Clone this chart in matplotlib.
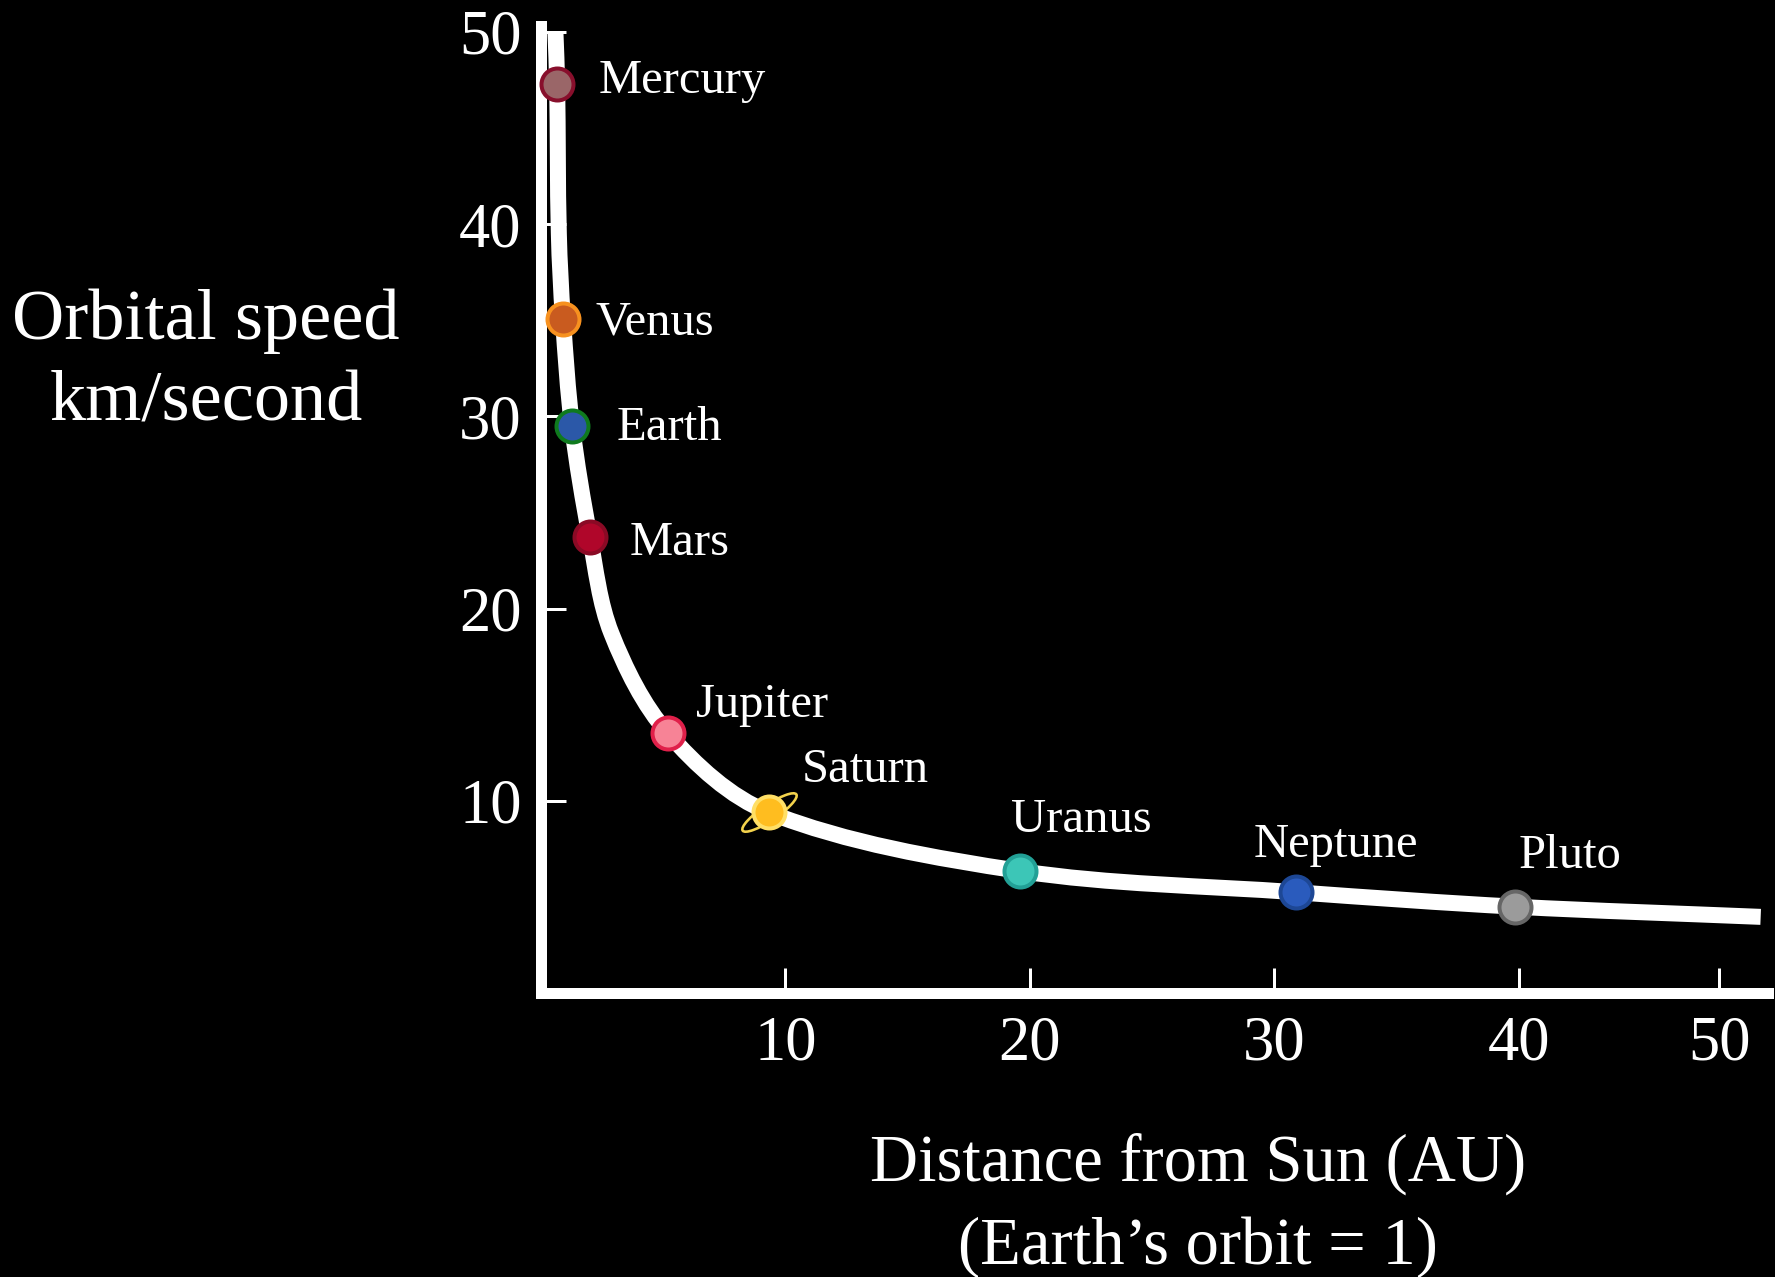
import matplotlib.pyplot as plt
import numpy as np
from matplotlib.path import Path
from matplotlib.patches import PathPatch
from matplotlib.transforms import Affine2D

plt.rcParams["font.family"] = ["Liberation Serif", "DejaVu Serif"]

################################################################################
# Data                                                  #
################################################################################
planets = ["Mercury", "Venus", "Earth", "Mars", "Jupiter", "Saturn", "Uranus", "Neptune", "Pluto"]
dist_au = [0.66, 0.90, 1.27, 2.0, 5.2, 9.33, 19.58, 30.9, 39.86]
speed_kms = [47.3, 35.05, 29.5, 23.7, 13.5, 9.39, 6.35, 5.24, 4.49]
face_colors = ["#9a6668", "#c95b1f", "#2b58a8", "#b0062a", "#f78396", "#ffbd1f", "#3cc6b7", "#2a5bbd", "#9b9b9b"]
edge_colors = ["#880f2c", "#f7911f", "#0f7a1e", "#8a0a25", "#e0204a", "#ffdf66", "#22a096", "#1d4795", "#666666"]

# the white speed curve
curve_au = [0.59, 0.66, 0.73, 0.90, 1.27, 2.0, 2.88, 5.2, 9.33, 19.58, 30.9, 39.86, 49.9]
curve_kms = [50.0, 47.3, 39.5, 35.05, 29.5, 23.7, 18.71, 13.5, 9.39, 6.35, 5.24, 4.49, 3.96]

x_ticks = [10, 20, 30, 40, 48.2]
x_tick_labels = ["10", "20", "30", "40", "50"]
y_ticks = [10, 20, 30, 40, 50]
y_tick_labels = ["10", "20", "30", "40", "50"]

# label offsets from the marker centre, in pixels (dx right, dy up)
label_offsets = {
    "Mercury": (41, 3),
    "Venus": (33, -3),
    "Earth": (45, -2),
    "Mars": (40, -6),
    "Jupiter": (28, 28),
    "Saturn": (33, 42),
    "Uranus": (-9, 51),
    "Neptune": (-43, 47),
    "Pluto": (3, 51),
}


def smooth_line(xs, ys, sx, sy):
    # cubic Bezier path through the traced points (chord-length Hermite tangents)
    P = np.column_stack([np.asarray(xs) * sx, np.asarray(ys) * sy])
    d = np.linalg.norm(np.diff(P, axis=0), axis=1)
    T = np.zeros_like(P)
    T[1:-1] = (P[2:] - P[:-2]) / (d[:-1] + d[1:])[:, None]
    T[0] = (P[1] - P[0]) / d[0]
    T[-1] = (P[-1] - P[-2]) / d[-1]
    verts = [P[0]]
    codes = [Path.MOVETO]
    for i in range(len(d)):
        verts += [P[i] + T[i] * d[i] / 3, P[i + 1] - T[i + 1] * d[i] / 3, P[i + 1]]
        codes += [Path.CURVE4] * 3
    return Path(np.array(verts) / [sx, sy], codes)


################################################################################
# Figure                                                                       #
################################################################################
W, H = 1775, 1277
px = 0.72  # pixel -> points at dpi 100
fig = plt.figure(figsize=(W / 100, H / 100), dpi=100, facecolor="black")
ax = fig.add_axes([541 / W, 1 - 993 / H, (1768 - 541) / W, (993 - 26) / H])
ax.set_facecolor("black")

ax.add_patch(PathPatch(smooth_line(curve_au, curve_kms, 24.44, 19.22), fill=False, ec="white",
                       lw=16 * px, capstyle="butt", joinstyle="round", zorder=2, clip_on=False))

# Saturn's ring as a custom marker
ring = Path.unit_circle().transformed(Affine2D().scale(1.0, 0.24).rotate_deg(34))
i_sat = planets.index("Saturn")
ax.plot(dist_au[i_sat], speed_kms[i_sat], marker=ring, ms=56 * px, mfc="none",
        mec="#f3d24c", mew=2.6 * px, zorder=3, clip_on=False)

for name, x, y, fc, ec in zip(planets, dist_au, speed_kms, face_colors, edge_colors):
    ax.plot(x, y, "o", ms=32 * px, mfc=fc, mec=ec, mew=4 * px, zorder=4, clip_on=False)
    dx, dy = label_offsets[name]
    ax.annotate(name, (x, y), xytext=(dx * px, dy * px), textcoords="offset points",
                ha="left", va="center", color="white", fontsize=35, zorder=5)

ax.set_xlim(0, 50.2)
ax.set_ylim(0, 50.3)
ax.set_xticks(x_ticks, x_tick_labels)
ax.set_yticks(y_ticks, y_tick_labels)
ax.tick_params(axis="both", direction="in", length=25 * px, width=3 * px, color="white",
               labelcolor="white", labelsize=45)
ax.tick_params(axis="x", pad=16)
ax.tick_params(axis="y", pad=14)

for side in ["top", "right"]:
    ax.spines[side].set_visible(False)
for side in ["left", "bottom"]:
    ax.spines[side].set_color("white")
    ax.spines[side].set_linewidth(11 * px)
    ax.spines[side].set_capstyle("projecting")

fig.text(206 / W, 1 - 362 / H, "Orbital speed\nkm/second", ha="center", va="center",
         multialignment="center", color="white", fontsize=52, linespacing=1.34)
fig.text(1198 / W, 1 - 1205 / H, "Distance from Sun (AU)\n(Earth\u2019s orbit = 1)", ha="center",
         va="center", multialignment="center", color="white", fontsize=48, linespacing=1.45)

fig.savefig("out.png", dpi=100, facecolor="black")
plt.close()
